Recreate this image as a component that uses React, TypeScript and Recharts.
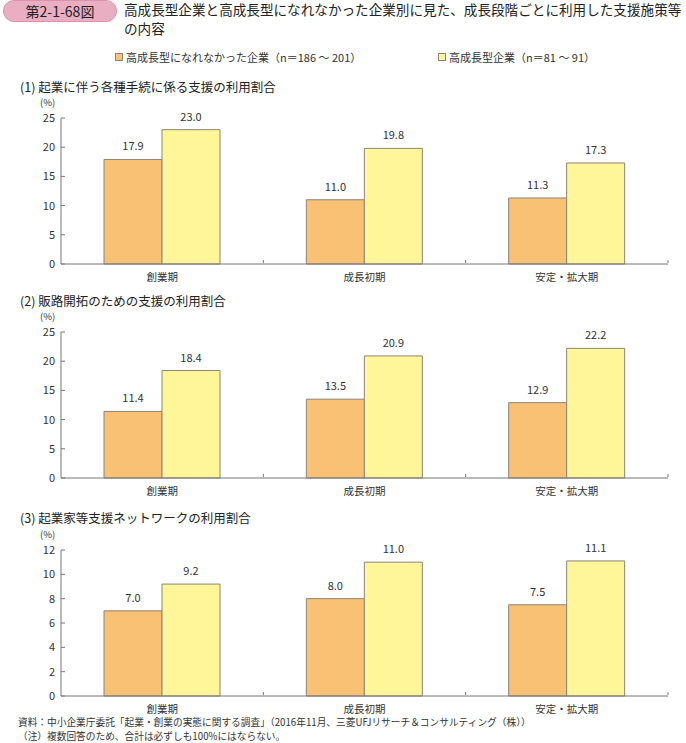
import React from "react"
import { Bar, BarChart, LabelList, XAxis, YAxis } from "recharts"

const categories = ["創業期", "成長初期", "安定・拡大期"]

const seriesNames = [
  "高成長型になれなかった企業（n＝186 ～ 201）",
  "高成長型企業（n＝81 ～ 91）",
]

const proceduresLow = [17.9, 11.0, 11.3]
const proceduresHigh = [23.0, 19.8, 17.3]
const salesLow = [11.4, 13.5, 12.9]
const salesHigh = [18.4, 20.9, 22.2]
const networkLow = [7.0, 8.0, 7.5]
const networkHigh = [9.2, 11.0, 11.1]

const ticks25 = [0, 5, 10, 15, 20, 25]
const ticks12 = [0, 2, 4, 6, 8, 10, 12]

const panelTitles = [
  "(1) 起業に伴う各種手続に係る支援の利用割合",
  "(2) 販路開拓のための支援の利用割合",
  "(3) 起業家等支援ネットワークの利用割合",
]

const ORANGE = "#F9C174"
const YELLOW = "#FFF69A"
const EDGE = "#8c8478"
const AXIS = "#777"
const TEXT = "#333"
const FONT = "'Noto Sans CJK JP', 'Noto Sans', sans-serif"

const AXIS_X = 61
const PLOT_RIGHT = 668

function YTick({ x, y, payload }: any) {
  return (
    <g>
      <line x1={AXIS_X} x2={AXIS_X + 4} y1={y} y2={y} stroke={AXIS} />
      <text x={x} y={y} dy={4} textAnchor="end" fontSize={11} fill={TEXT} fontFamily={FONT}>
        {payload.value}
      </text>
    </g>
  )
}

function XTick({ x, y, payload }: any) {
  const band = (PLOT_RIGHT - AXIS_X) / categories.length
  return (
    <g>
      <line x1={x + band / 2} x2={x + band / 2} y1={y - 9} y2={y - 12} stroke={AXIS} />
      <text x={x} y={y} dy={9} textAnchor="middle" fontSize={10.5} fill={TEXT} fontFamily={FONT}>
        {payload.value}
      </text>
    </g>
  )
}

function Panel({
  top,
  low,
  high,
  max,
  ticks,
}: {
  top: number
  low: number[]
  high: number[]
  max: number
  ticks: number[]
}) {
  const data = categories.map((c, i) => ({ name: c, low: low[i], high: high[i] }))
  return (
    <div style={{ position: "absolute", left: 0, top }}>
      <BarChart
        width={686}
        height={190}
        data={data}
        margin={{ top: 18, right: 686 - PLOT_RIGHT, left: 0, bottom: 0 }}
        barCategoryGap={43}
        barGap={0}
      >
        <YAxis
          domain={[0, max]}
          ticks={ticks}
          width={AXIS_X}
          axisLine={{ stroke: AXIS }}
          tickLine={false}
          tickSize={0}
          tickMargin={6}
          interval={0}
          tick={<YTick />}
        />
        <XAxis
          dataKey="name"
          height={26}
          axisLine={{ stroke: AXIS }}
          tickLine={false}
          tickSize={0}
          tickMargin={8}
          tick={<XTick />}
        />
        <Bar dataKey="low" fill={ORANGE} stroke={EDGE} strokeWidth={1} isAnimationActive={false}>
          <LabelList
            dataKey="low"
            position="top"
            offset={9}
            formatter={(v: any) => Number(v).toFixed(1)}
            style={{ fontSize: 11, fill: TEXT, fontFamily: FONT }}
          />
        </Bar>
        <Bar dataKey="high" fill={YELLOW} stroke={EDGE} strokeWidth={1} isAnimationActive={false}>
          <LabelList
            dataKey="high"
            position="top"
            offset={9}
            formatter={(v: any) => Number(v).toFixed(1)}
            style={{ fontSize: 11, fill: TEXT, fontFamily: FONT }}
          />
        </Bar>
      </BarChart>
    </div>
  )
}

export default function App() {
  const label = (text: string, left: number, top: number, size: number, extra: any = {}) => (
    <div
      style={{
        position: "absolute",
        left,
        top,
        fontSize: size,
        color: TEXT,
        whiteSpace: "nowrap",
        lineHeight: 1,
        ...extra,
      }}
    >
      {text}
    </div>
  )
  return (
    <div
      style={{
        position: "absolute",
        left: 0,
        top: 0,
        width: 686,
        height: 743,
        background: "#fff",
        fontFamily: FONT,
        overflow: "hidden",
      }}
    >
      <div
        style={{
          position: "absolute",
          left: 3,
          top: 0,
          width: 114,
          height: 22,
          background: "#E9AEC2",
          border: "1px solid #d993ab",
          borderRadius: 11,
          boxSizing: "border-box",
          fontSize: 14,
          color: "#222",
          textAlign: "center",
          lineHeight: "20px",
        }}
      >
        第2-1-68図
      </div>
      {label("高成長型企業と高成長型になれなかった企業別に見た、成長段階ごとに利用した支援施策等", 124, 3, 13.6, { color: "#222" })}
      {label("の内容", 124, 22, 13.6, { color: "#222" })}

      <div style={{ position: "absolute", left: 115, top: 53, width: 8, height: 8, background: ORANGE, border: `1px solid ${EDGE}`, boxSizing: "border-box" }} />
      {label(seriesNames[0], 126, 52, 11)}
      <div style={{ position: "absolute", left: 438, top: 53, width: 8, height: 8, background: YELLOW, border: `1px solid ${EDGE}`, boxSizing: "border-box" }} />
      {label(seriesNames[1], 449, 52, 11)}

      {label(panelTitles[0], 20, 81, 12.5, { color: "#222" })}
      {label("(%)", 40, 98, 9.5)}
      <Panel top={100} low={proceduresLow} high={proceduresHigh} max={25} ticks={ticks25} />

      {label(panelTitles[1], 20, 295, 12.5, { color: "#222" })}
      {label("(%)", 40, 312, 9.5)}
      <Panel top={314} low={salesLow} high={salesHigh} max={25} ticks={ticks25} />

      {label(panelTitles[2], 20, 512, 12.5, { color: "#222" })}
      {label("(%)", 40, 530, 9.5)}
      <Panel top={532} low={networkLow} high={networkHigh} max={12} ticks={ticks12} />

      {label("資料：中小企業庁委託「起業・創業の実態に関する調査」（2016年11月、三菱UFJリサーチ＆コンサルティング（株））", 18, 718, 9.7)}
      {label("（注）複数回答のため、合計は必ずしも100%にはならない。", 18, 732, 9.7)}
    </div>
  )
}
